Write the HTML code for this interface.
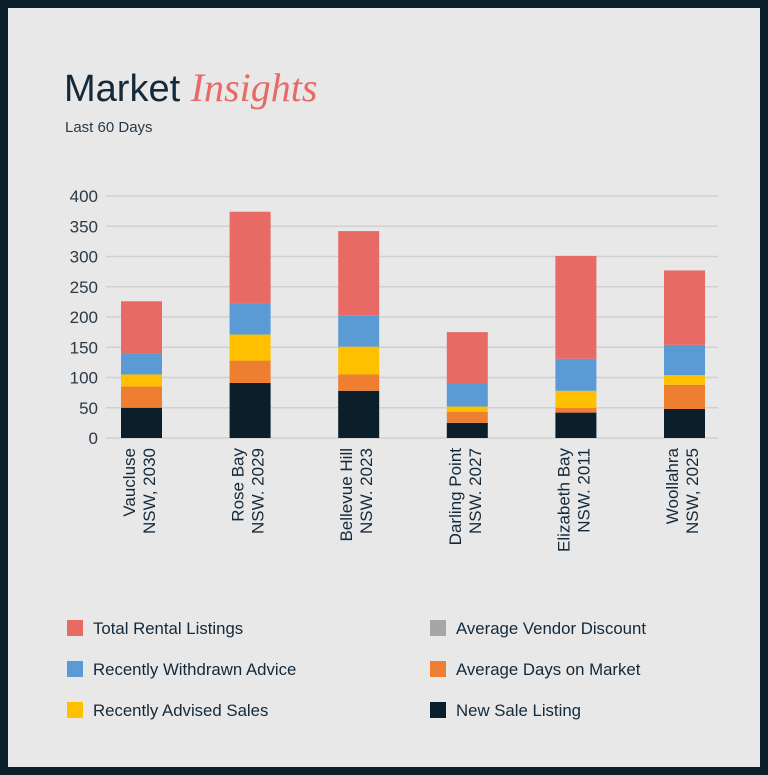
<!DOCTYPE html>
<html><head><meta charset="utf-8"><style>
html,body{margin:0;padding:0;background:#0b1f2b;}
svg{display:block;font-family:"Liberation Sans",sans-serif;}
</style></head><body>
<svg width="768" height="775" viewBox="0 0 768 775">
<rect x="0" y="0" width="768" height="775" fill="#0b1f2b"/>
<rect x="8" y="8" width="752" height="759" fill="#e8e8e8"/>
<text x="64" y="101" font-size="38" fill="#14293a">Market <tspan font-family="Liberation Serif,serif" font-style="italic" fill="#e86a64" font-size="40">Insights</tspan></text>
<text x="65" y="132" font-size="15" fill="#2a3a47">Last 60 Days</text>
<g id="grid"></g>
<g id="bars"></g>
<g id="xlabels"></g>
<g id="legend"></g>
</svg>
<script>
const categories = ["Vaucluse|NSW, 2030","Rose Bay|NSW. 2029","Bellevue Hill|NSW. 2023","Darling Point|NSW. 2027","Elizabeth Bay|NSW. 2011","Woollahra|NSW, 2025"];
const newSale = [50, 91, 78, 25, 42, 48];
const daysOnMarket = [35, 37, 27, 18, 8, 40];
const advisedSales = [20, 43, 46, 9, 28, 16];
const withdrawnAdvice = [34, 52, 52, 39, 53, 50];
const rentalListings = [87, 151, 139, 84, 170, 123];
const yTicks = [0, 50, 100, 150, 200, 250, 300, 350, 400];
const seriesNames = ["New Sale Listing","Average Days on Market","Recently Advised Sales","Recently Withdrawn Advice","Total Rental Listings"];
const seriesColors = ["#0b1f2b","#ee7f31","#ffc000","#5b9bd5","#e86a64"];
const NS = "http://www.w3.org/2000/svg";
const y0 = 438, y1 = 196, yMax = 400;
function yScale(v){ return y0 - (v / yMax) * (y0 - y1); }
function xCenter(i){ return 141.5 + i * 108.6; }
const barW = 41;
function mk(tag, attrs, parent){ const e = document.createElementNS(NS, tag); for (const k in attrs) e.setAttribute(k, attrs[k]); parent.appendChild(e); return e; }
const grid = document.getElementById('grid');
yTicks.forEach(t => {
  const l = mk('line', {x1: 106, x2: 718, y1: yScale(t), y2: yScale(t), stroke: '#d0d0d0', 'stroke-width': 1.5}, grid);
  
  
  const tx = mk('text', {x: 98, y: yScale(t) + 6, 'text-anchor': 'end', 'font-size': 17, fill: '#2a3a47'}, grid);
  tx.textContent = t;
  
  
});
const series = [newSale, daysOnMarket, advisedSales, withdrawnAdvice, rentalListings];
const bars = document.getElementById('bars');
categories.forEach((c, i) => {
  let cum = 0;
  series.forEach((s, k) => {
    const top = yScale(cum + s[i]), bot = yScale(cum);
    const r = mk('rect', {x: xCenter(i) - barW / 2, y: top, width: barW, height: bot - top, fill: seriesColors[k]}, bars);
    
    
    cum += s[i];
  });
});
const xl = document.getElementById('xlabels');
categories.forEach((c, i) => {
  const parts = c.split('|');
  const x = xCenter(i);
  [[parts[0], x - 6.5], [parts[1], x + 13.5]].forEach(p => {
    const t = mk('text', {x: 0, y: 0, transform: `translate(${p[1]},448) rotate(-90)`, 'text-anchor': 'end', 'font-size': 17, fill: '#14293a'}, xl);
    t.textContent = p[0];
    
    
  });
});
const legendItems = [["Total Rental Listings","#e86a64",67,628],["Recently Withdrawn Advice","#5b9bd5",67,669],["Recently Advised Sales","#ffc000",67,710],["Average Vendor Discount","#a6a6a6",430,628],["Average Days on Market","#ee7f31",430,669],["New Sale Listing","#0b1f2b",430,710]];
const lg = document.getElementById('legend');
legendItems.forEach(it => {
  const r = mk('rect', {x: it[2], y: it[3] - 8, width: 16, height: 16, fill: it[1]}, lg);
  
  
  const t = mk('text', {x: it[2] + 26, y: it[3] + 6, 'font-size': 16.8, fill: '#14293a'}, lg);
  t.textContent = it[0];
  
  
});
</script>
</body></html>
